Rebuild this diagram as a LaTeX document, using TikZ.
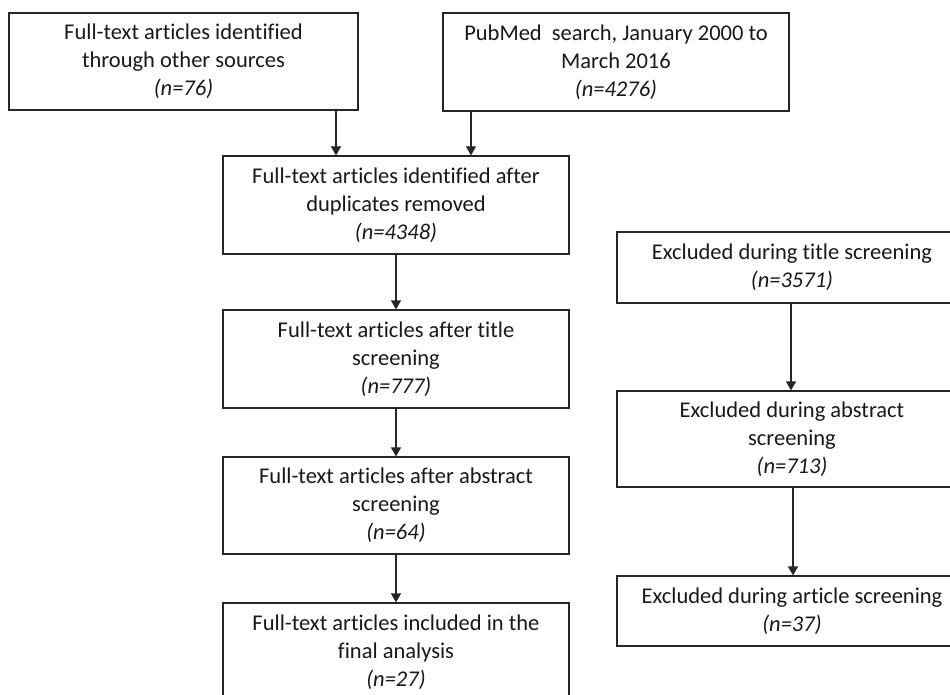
\documentclass[tikz,border=0pt]{standalone}
\usepackage{fontspec}
\setmainfont{Carlito}[Ligatures={NoCommon}]
\usetikzlibrary{arrows.meta}
\tikzset{
  box/.style={draw=black!85, line width=1.2pt, align=center, inner sep=0pt,
    font=\fontsize{22.5}{28}\selectfont, text=black!90},
  arr/.style={draw=black!85, line width=1.2pt, -{Triangle[width=10pt,length=9pt]}}
}
\begin{document}
\begin{tikzpicture}[x=1pt,y=-1pt]
\useasboundingbox (0,0) rectangle (950,695);
\clip (0,0) rectangle (950,695);
\fill[white] (0,0) rectangle (950,695);
% left / top column
\node[box, minimum width=349pt, minimum height=97pt] (b1) at (183.5,61.5)
  {Full-text articles identified\\through other sources\\\textit{(n=76)}};
\node[box, minimum width=346pt, minimum height=98pt] (b2) at (616,62)
  {PubMed\ \ search, January 2000 to\\March 2016\\\textit{(n=4276)}};
\node[box, minimum width=346pt, minimum height=98pt] (b3) at (396,205)
  {Full-text articles identified after\\duplicates removed\\\textit{(n=4348)}};
\node[box, minimum width=346pt, minimum height=98pt] (b4) at (396,359)
  {Full-text articles after title\\screening\\\textit{(n=777)}};
\node[box, minimum width=346pt, minimum height=97pt] (b5) at (396,505.5)
  {Full-text articles after abstract\\screening\\\textit{(n=64)}};
\node[box, minimum width=346pt, minimum height=98pt] (b6) at (396,652)
  {Full-text articles included in the\\final analysis\\\textit{(n=27)}};
% right column
\node[box, minimum width=350pt, minimum height=71pt] (r1) at (792,267.5)
  {Excluded during title screening\\\textit{(n=3571)}};
\node[box, minimum width=350pt, minimum height=96pt] (r2) at (792,439)
  {Excluded during abstract\\screening\\\textit{(n=713)}};
\node[box, minimum width=350pt, minimum height=70pt] (r3) at (792,611)
  {Excluded during article screening\\\textit{(n=37)}};
% connectors
\draw[arr] (336,0 |- b1.south) -- (336,0 |- b3.north);
\draw[arr] (471,0 |- b2.south) -- (471,0 |- b3.north);
\draw[arr] (b3.south) -- (b4.north);
\draw[arr] (b4.south) -- (b5.north);
\draw[arr] (b5.south) -- (b6.north);
\draw[arr] (791,0 |- r1.south) -- (791,0 |- r2.north);
\draw[arr] (793,0 |- r2.south) -- (793,0 |- r3.north);
\end{tikzpicture}
\end{document}
